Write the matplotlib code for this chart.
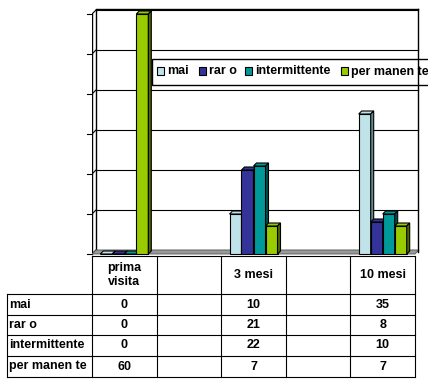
import matplotlib
matplotlib.use("Agg")
import matplotlib.pyplot as plt
from matplotlib.patches import Polygon, Rectangle
import numpy as np

plt.rcParams['font.family'] = ['Liberation Sans', 'DejaVu Sans']
plt.rcParams['font.weight'] = 'bold'

# data
categories = ["prima\nvisita", "", "3 mesi", "", "10 mesi"]
series = ["mai", "rar o", "intermittente", "per manen te"]
mai = [0, None, 10, None, 35]
raro = [0, None, 21, None, 8]
intermittente = [0, None, 22, None, 10]
permanente = [60, None, 7, None, 7]
values = [mai, raro, intermittente, permanente]

colors = ["#BFE3E8", "#333399", "#009999", "#99CC00"]
sides = ["#62898C", "#1A1A4D", "#004D4D", "#4D6600"]

W, H = 428, 381
fig = plt.figure(figsize=(W / 100, H / 100), dpi=100)

# main 3d-ish chart area (data coords: categories on x, values on y)
px_x = 64.6   # pixels per category
px_y = 4.0    # pixels per value unit
x0_px, y0_px = 92, 254
left_v = -0.5
x_right = left_v + (W - x0_px) / px_x
y_bot = (y0_px - 258) / px_y
y_top = y0_px / px_y
ax = fig.add_axes([x0_px / W, (H - 258) / H, (W - x0_px) / W, 258 / H])
ax.set_xlim(left_v, x_right)
ax.set_ylim(y_bot, y_top)
ax.axis('off')

dxw, dyw = 4 / px_x, 4 / px_y      # wall depth
dxb, dyb = 3 / px_x, 3 / px_y      # bar depth
wall_r = left_v + (418 - x0_px) / px_x
vmax = 60
n = len(categories)

# floor
ax.add_patch(Polygon([(left_v, 0), (n - 0.5, 0), (n - 0.5 + dxw, dyw), (left_v + dxw, dyw)],
                     closed=True, facecolor="#999999", edgecolor="#555555", lw=0.6, zorder=1))

# back wall gridlines and left wall
for v in range(0, vmax + 1, 10):
    ax.plot([left_v + dxw, wall_r], [v + dyw, v + dyw], color="black", lw=0.8, zorder=0.5)
    ax.plot([left_v, left_v + dxw], [v, v + dyw], color="black", lw=0.8, zorder=0.5)
    ax.plot([left_v - 5 / px_x, left_v], [v, v], color="black", lw=0.8, zorder=0.5, clip_on=False)
ax.plot([left_v, left_v], [0, vmax], color="black", lw=1.0, zorder=0.5)
ax.plot([left_v + dxw, left_v + dxw], [dyw, vmax + dyw], color="black", lw=1.0, zorder=0.5)

# bars
w = 12 / px_x
for k, vals in enumerate(values):
    for i, v in enumerate(vals):
        if v is None:
            continue
        l = i - 2 * w + k * w
        ax.bar(l, v, width=w, align='edge', color=colors[k], edgecolor="black", lw=0.8, zorder=3)
        ax.add_patch(Polygon([(l, v), (l + w, v), (l + w + dxb, v + dyb), (l + dxb, v + dyb)],
                             closed=True, facecolor=colors[k], edgecolor="black", lw=0.8, zorder=3))
        ax.add_patch(Polygon([(l + w, 0), (l + w + dxb, dyb), (l + w + dxb, v + dyb), (l + w, v)],
                             closed=True, facecolor=sides[k], edgecolor="black", lw=0.8, zorder=3))

# overlay in pixel coordinates for legend and data table
ov = fig.add_axes([0, 0, 1, 1])
ov.set_xlim(0, W)
ov.set_ylim(H, 0)
ov.axis('off')

fs = 9
# legend
ov.add_patch(Rectangle((152, 59), 290, 26, facecolor="white", edgecolor="black", lw=1.0, zorder=5))
leg_x = [157, 199, 245, 341]
for k, name in enumerate(series):
    ov.add_patch(Rectangle((leg_x[k], 67), 7, 8, facecolor=colors[k], edgecolor="black", lw=0.8, zorder=6))
    ov.text(leg_x[k] + 10, 71.5, name, fontsize=fs, fontweight='bold', va='center', ha='left', zorder=6)

# right border of the back wall drawn over the legend
ov.plot([418, 418], [9, 252], color="black", lw=1.0, zorder=7)
ov.plot([96, 418], [9, 9], color="black", lw=1.0, zorder=7)

# data table
col_edges = [x0_px + px_x * k for k in range(n + 1)]
row_edges = [294, 315, 335, 356, 377]
for x in col_edges:
    ov.plot([x, x], [256, row_edges[-1]], color="black", lw=0.8, zorder=5)
ov.plot([col_edges[0], col_edges[-1]], [256, 256], color="black", lw=0.8, zorder=5)
for y in row_edges:
    ov.plot([7, col_edges[-1]], [y, y], color="black", lw=0.8, zorder=5)
ov.plot([7, 7], [row_edges[0], row_edges[-1]], color="black", lw=0.8, zorder=5)

for i, cat in enumerate(categories):
    cx = (col_edges[i] + col_edges[i + 1]) / 2
    ov.text(cx, 275, cat, fontsize=fs, fontweight='bold', ha='center', va='center', linespacing=1.3)
for k, name in enumerate(series):
    cy = (row_edges[k] + row_edges[k + 1]) / 2
    ov.text(9, cy, name, fontsize=fs, fontweight='bold', ha='left', va='center')
    for i, v in enumerate(values[k]):
        if v is None:
            continue
        cx = (col_edges[i] + col_edges[i + 1]) / 2
        ov.text(cx, cy, str(v), fontsize=fs, fontweight='bold', ha='center', va='center')

fig.savefig("out.png", dpi=100, facecolor="white")
